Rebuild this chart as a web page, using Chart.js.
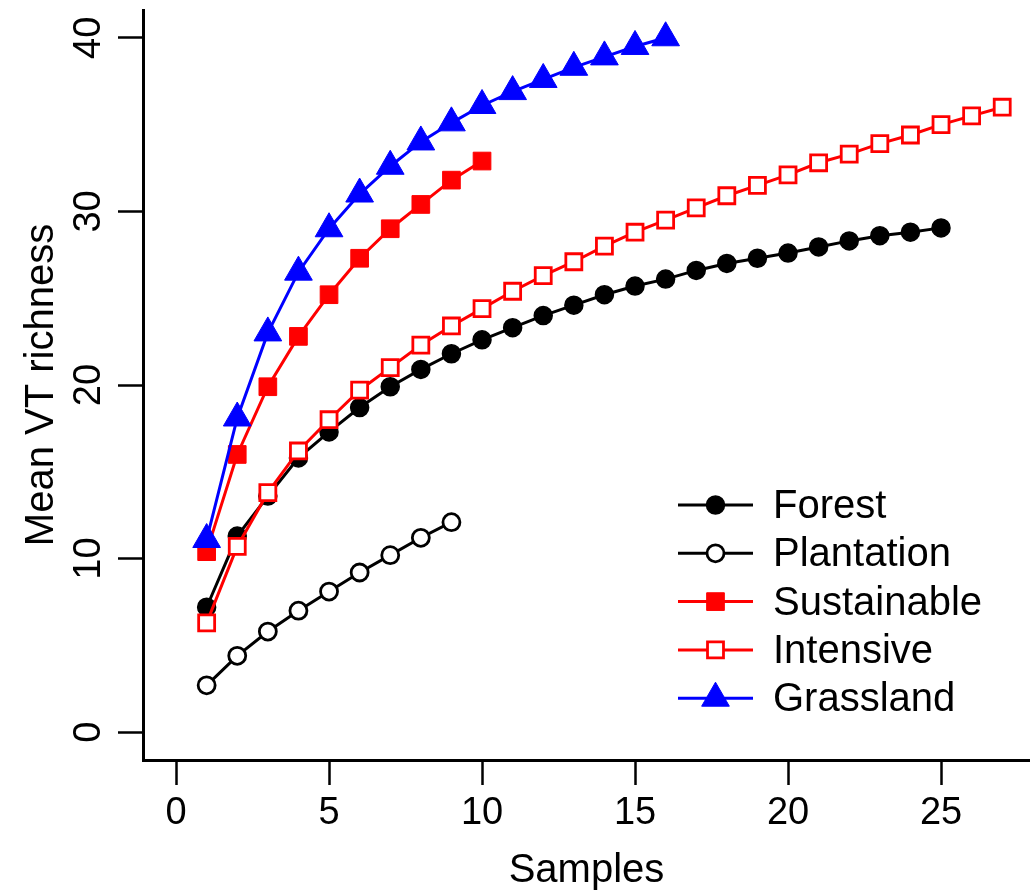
<!DOCTYPE html>
<html><head><meta charset="utf-8">
<script src="https://cdn.jsdelivr.net/npm/chart.js@4/dist/chart.umd.min.js"></script>
<style>html,body{margin:0;padding:0;background:#fff;overflow:hidden}canvas{display:block}</style>
</head><body>
<canvas id="c" width="1030" height="894"></canvas>
<script>
const samples = [1,2,3,4,5,6,7,8,9,10,11,12,13,14,15,16,17,18,19,20,21,22,23,24,25,26,27];
const forest = [7.2,11.3,13.6,15.8,17.3,18.7,19.9,20.9,21.8,22.6,23.3,24.0,24.6,25.2,25.7,26.1,26.6,27.0,27.3,27.6,27.95,28.3,28.6,28.8,29.05];
const plantation = [2.7,4.4,5.8,7.0,8.1,9.2,10.2,11.2,12.1];
const sustainable = [10.4,16.0,19.9,22.8,25.2,27.3,29.0,30.4,31.8,32.9];
const intensive = [6.3,10.7,13.8,16.2,18.0,19.7,21.0,22.3,23.4,24.4,25.4,26.3,27.1,28.0,28.8,29.5,30.2,30.9,31.5,32.1,32.8,33.3,33.9,34.4,35.0,35.5,36.0];
const grassland = [11.1,18.1,23.0,26.5,29.0,31.0,32.6,34.0,35.1,36.1,36.9,37.6,38.3,38.9,39.5,40.0];
const seriesNames = ['Forest','Plantation','Sustainable','Intensive','Grassland'];
const xTicks = [0,5,10,15,20,25];
const yTicks = [0,10,20,30,40];
const xTitle = 'Samples';
const yTitle = 'Mean VT richness';

const FONT = '"Liberation Sans", Arial, Helvetica, sans-serif';
function pts(vals){ return vals.map((v,i)=>({x:samples[i], y:v})); }

const common = {borderWidth:3, tension:0, fill:false, showLine:true, clip:false};
const datasets = [
  Object.assign({label:seriesNames[0], data:pts(forest), borderColor:'#000', backgroundColor:'#000',
    pointStyle:'circle', pointRadius:9, pointBorderWidth:1.5, pointBackgroundColor:'#000', pointBorderColor:'#000', order:4}, common),
  Object.assign({label:seriesNames[1], data:pts(plantation), borderColor:'#000', backgroundColor:'#fff',
    pointStyle:'circle', pointRadius:8.5, pointBorderWidth:2.8, pointBackgroundColor:'#fff', pointBorderColor:'#000', order:3}, common),
  Object.assign({label:seriesNames[2], data:pts(sustainable), borderColor:'#ff0000', backgroundColor:'#ff0000',
    pointStyle:'rect', pointRadius:12.5, pointBorderWidth:1, pointBackgroundColor:'#ff0000', pointBorderColor:'#ff0000', order:2}, common),
  Object.assign({label:seriesNames[3], data:pts(intensive), borderColor:'#ff0000', backgroundColor:'#fff',
    pointStyle:'rect', pointRadius:11.3, pointBorderWidth:2.8, pointBackgroundColor:'#fff', pointBorderColor:'#ff0000', order:1}, common),
  Object.assign({label:seriesNames[4], data:pts(grassland), borderColor:'#0000ff', backgroundColor:'#0000ff',
    pointStyle:'triangle', pointRadius:16, pointBorderWidth:1, pointBackgroundColor:'#0000ff', pointBorderColor:'#0000ff', order:0}, common)
];

function drawMarker(ctx, style, r, x, y){
  ctx.beginPath();
  if (style === 'circle') { ctx.arc(x, y, r, 0, Math.PI*2); }
  else if (style === 'rect') { const s = Math.SQRT1_2*r; ctx.rect(x-s, y-s, 2*s, 2*s); }
  else if (style === 'triangle') {
    let a = 0;
    ctx.moveTo(x + Math.sin(a)*r, y - Math.cos(a)*r);
    a += 2*Math.PI/3; ctx.lineTo(x + Math.sin(a)*r, y - Math.cos(a)*r);
    a += 2*Math.PI/3; ctx.lineTo(x + Math.sin(a)*r, y - Math.cos(a)*r);
    ctx.closePath();
  }
  ctx.fill(); ctx.stroke();
}

const legendPlugin = {
  id: 'rLegend',
  afterDatasetsDraw(chart, args, o){
    const ctx = chart.ctx;
    chart.data.datasets.forEach((ds, i) => {
      const y = o.top + i*o.gap;
      ctx.save();
      ctx.strokeStyle = ds.borderColor; ctx.lineWidth = ds.borderWidth;
      ctx.beginPath(); ctx.moveTo(o.x0, y); ctx.lineTo(o.x1, y); ctx.stroke();
      ctx.fillStyle = ds.pointBackgroundColor; ctx.strokeStyle = ds.pointBorderColor; ctx.lineWidth = ds.pointBorderWidth;
      drawMarker(ctx, ds.pointStyle, ds.pointRadius, (o.x0+o.x1)/2, y);
      ctx.fillStyle = '#000'; ctx.font = o.fontSize + 'px ' + FONT;
      ctx.textBaseline = 'middle'; ctx.textAlign = 'left';
      ctx.fillText(ds.label, o.textX, y + o.textDy);
      ctx.restore();
    });
  }
};

new Chart(document.getElementById('c'), {
  type: 'line',
  data: { datasets },
  plugins: [legendPlugin],
  options: {
    responsive: false, animation: false, devicePixelRatio: 1,
    layout: { autoPadding: false, padding: { top: 10, right: 0, left: 0, bottom: 0 } },
    plugins: {
      legend: { display: false }, tooltip: { enabled: false },
      rLegend: { top: 505, gap: 48.3, x0: 678, x1: 753, textX: 773, textDy: 2, fontSize: 40 }
    },
    scales: {
      x: {
        type: 'linear', min: -1.08, max: 27.908,
        afterBuildTicks(s){ s.ticks = xTicks.map(v => ({value: v})); },
        afterFit(s){ s.height = 134; s.paddingLeft = 0; s.paddingRight = 0; },
        grid: { display: true, drawOnChartArea: false, drawTicks: true, tickLength: 25, tickWidth: 2.5, tickColor: '#000' },
        border: { display: true, color: '#000', width: 3 },
        ticks: { color: '#000', font: { family: FONT, size: 38, lineHeight: 1 }, padding: 10, maxRotation: 0, autoSkip: false,
                 callback: v => String(v) },
        title: { display: true, text: xTitle, color: '#000', font: { family: FONT, size: 40, lineHeight: 1 }, padding: { top: 0, bottom: 3 } }
      },
      y: {
        type: 'linear', min: -1.6, max: 41.6,
        afterBuildTicks(s){ s.ticks = yTicks.map(v => ({value: v})); },
        afterFit(s){ s.width = 143; s.paddingTop = 0; s.paddingBottom = 0; },
        grid: { display: true, drawOnChartArea: false, drawTicks: true, tickLength: 25, tickWidth: 2.5, tickColor: '#000' },
        border: { display: true, color: '#000', width: 3 },
        ticks: { color: '#000', font: { family: FONT, size: 38, lineHeight: 1 }, padding: 7.5, minRotation: 90, maxRotation: 90,
                 crossAlign: 'center', autoSkip: false, callback: v => String(v) },
        title: { display: true, text: yTitle, color: '#000', font: { family: FONT, size: 40, lineHeight: 1 }, padding: { top: 22, bottom: 0 } }
      }
    }
  }
});
</script>
</body></html>
